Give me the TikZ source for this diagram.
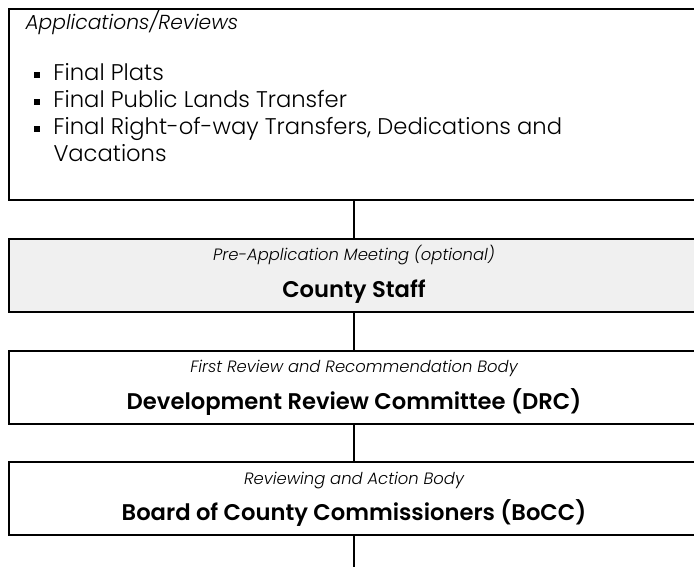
\documentclass[tikz,border=0pt]{standalone}
\usepackage{fontspec}
\setmainfont{Poppins}[UprightFont=* Light, ItalicFont=* Light Italic, BoldFont=* SemiBold]
\newcommand{\sqbullet}{\makebox[15pt][l]{\rule[0.25ex]{4.5pt}{4.5pt}}}
\tikzset{every picture/.style={line width=0.75pt}}
\tikzset{
	stage box/.style={draw, line width=1.6pt, inner sep=0pt, minimum width=517.5pt, minimum height=54.75pt},
	stage fill/.style={fill={rgb, 255:red, 240; green, 240; blue, 240 }},
	stage link/.style={line width=1.2pt},
	role text/.style={font=\itshape\fontsize{12.3}{14}\selectfont, anchor=base, inner sep=0pt},
	body text/.style={font=\bfseries\fontsize{17}{20}\selectfont, anchor=base, inner sep=0pt},
	item text/.style={font=\fontsize{17}{20}\selectfont, anchor=base west, inner sep=0pt}}

\begin{document}
\begin{tikzpicture}[x=0.75pt,y=0.75pt,yscale=-1,xscale=1]
	\useasboundingbox (0,0) rectangle (694,567);

	%Shape: Rectangle [id:apps] 
	\node [stage box, minimum height=143.25pt] (apps) at (354,104.5) {};
	%Shape: Rectangle [id:staff] 
	\node [stage box, stage fill] (staff) at (354,275.5) {};
	%Shape: Rectangle [id:drc] 
	\node [stage box] (drc) at (354,387.5) {};
	%Shape: Rectangle [id:bocc] 
	\node [stage box] (bocc) at (354,498.5) {};
	\coordinate (out) at (354,567);

	%Straight Lines
	\draw [stage link] (apps.south) -- (staff.north);
	\draw [stage link] (staff.south) -- (drc.north);
	\draw [stage link] (drc.south) -- (bocc.north);
	\draw [stage link] (bocc.south) -- (out);

	% Text Node
	\draw (25,30) node [role text, anchor=base west, font=\itshape\fontsize{15.2}{17}\selectfont] {Applications/Reviews};
	% Text Node
	\draw (33,81) node [item text] {\sqbullet Final Plats};
	% Text Node
	\draw (33,108) node [item text] {\sqbullet Final Public Lands Transfer};
	% Text Node
	\draw (33,135) node [item text] {\sqbullet Final Right-of-way Transfers, Dedications and};
	% Text Node
	\draw (53,162) node [item text] {Vacations};

	% Text Node
	\draw (354,261) node [role text] {Pre-Application Meeting (optional)};
	% Text Node
	\draw (354,297) node [body text] {County Staff};
	% Text Node
	\draw (354,373) node [role text] {First Review and Recommendation Body};
	% Text Node
	\draw (354,409) node [body text] {Development Review Committee (DRC)};
	% Text Node
	\draw (354,484) node [role text] {Reviewing and Action Body};
	% Text Node
	\draw (354,520) node [body text] {Board of County Commissioners (BoCC)};

\end{tikzpicture}
\end{document}
